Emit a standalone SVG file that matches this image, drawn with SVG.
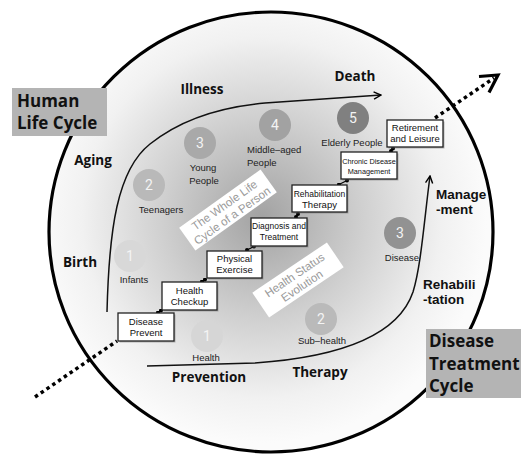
<svg xmlns="http://www.w3.org/2000/svg" width="521" height="454" viewBox="0 0 521 454">
<defs>
<radialGradient id="bg" gradientUnits="userSpaceOnUse" cx="262" cy="218" r="225">
<stop offset="0" stop-color="#a2a2a2"/>
<stop offset="0.45" stop-color="#d0d0d0"/>
<stop offset="0.8" stop-color="#f1f1f1"/>
<stop offset="1" stop-color="#fbfbfb"/>
</radialGradient>
<marker id="dot" viewBox="0 0 6 6" refX="3" refY="3" markerWidth="4" markerHeight="4" markerUnits="userSpaceOnUse"><circle cx="3" cy="3" r="3" fill="#000"/></marker>
<marker id="arr" viewBox="0 0 10 10" refX="9" refY="5" markerWidth="9" markerHeight="9" markerUnits="userSpaceOnUse" orient="auto"><path d="M1,1 L9,5 L1,9" fill="none" stroke="#000" stroke-width="1.6"/></marker>
</defs>
<style>
.lbl{font-family:"Open Sans","Noto Sans",sans-serif;font-weight:700;font-size:13.5px;fill:#111}
.lbl2{font-family:"Liberation Sans",Arial,sans-serif;font-weight:700;font-size:13.5px;fill:#111}
.title{font-family:"Open Sans","Noto Sans",sans-serif;font-weight:700;font-size:17px;fill:#111}
.small{font-family:"Liberation Sans",Arial,sans-serif;font-size:9.5px;fill:#222}
.num{font-family:"Roboto","Liberation Sans",sans-serif;font-size:14px;fill:#f4f4f4;text-anchor:middle}
.box rect.b{fill:#fff;stroke:#222;stroke-width:1.3}
.box rect.s{fill:#777;opacity:0.5}
.bt{font-family:"Liberation Sans",Arial,sans-serif;font-size:9.5px;fill:#111;text-anchor:middle}
.tag{font-family:"Liberation Sans",Arial,sans-serif;font-size:11.5px;fill:#9a9a9a;text-anchor:middle}
.curve{fill:none;stroke:#111;stroke-width:1.5}
.dotted{fill:none;stroke:#000;stroke-width:3.5;stroke-dasharray:3.5 3.5}
</style>

<g id="outer-circle">
<ellipse cx="271" cy="232" rx="222" ry="220" fill="url(#bg)" stroke="#000" stroke-width="3.2"/>
</g>

<g id="connectors">
<path class="curve" d="M107,312 C109,230 117,170 150,144 C180,120 220,107 265,103 L381,95" marker-end="url(#arr)"/>
<path class="curve" d="M147,366 L255,363 C340,357 398,336 413,292 C421,266 424,222 430,176" marker-end="url(#arr)"/>
<path class="dotted" d="M35,397 L117,341"/>
<path class="dotted" d="M435,118 L494,78"/>
<path d="M479,76.5 L498,75 L489,92.5" fill="none" stroke="#000" stroke-width="3.2" stroke-linejoin="miter"/>
<g stroke="#000" stroke-width="1.2" marker-start="url(#dot)" marker-end="url(#dot)">
<line x1="158" y1="312.5" x2="161" y2="310.5"/>
<line x1="202" y1="281.5" x2="205" y2="279.5"/>
<line x1="247" y1="250" x2="254" y2="246.5"/>
<line x1="296" y1="217" x2="298" y2="214"/>
<line x1="339" y1="184.5" x2="347" y2="180.5"/>
<line x1="391" y1="151" x2="393" y2="148.5"/>
</g>
</g>

<g id="label-human-life-cycle">
<rect x="12" y="88" width="95" height="48" fill="#b4b4b4"/>
<text class="title" x="17" y="107">Human</text>
<text class="title" x="17" y="129">Life Cycle</text>
</g>
<g id="label-disease-treatment-cycle">
<rect x="426" y="329" width="95" height="69" fill="#b4b4b4"/>
<text class="title" x="429" y="347">Disease</text>
<text class="title" x="429" y="369.5">Treatment</text>
<text class="title" x="429" y="392">Cycle</text>
</g>

<g id="outer-labels">
<text class="lbl" x="202" y="94" text-anchor="middle">Illness</text>
<text class="lbl" x="355" y="81" text-anchor="middle">Death</text>
<text class="lbl" x="93" y="165" text-anchor="middle">Aging</text>
<text class="lbl" x="80" y="267" text-anchor="middle">Birth</text>
<text class="lbl" x="209" y="382" text-anchor="middle">Prevention</text>
<text class="lbl" x="320" y="377" text-anchor="middle">Therapy</text>
<text class="lbl2" x="423" y="289">Rehabili</text>
<text class="lbl2" x="423" y="304">-tation</text>
<text class="lbl2" x="436" y="199">Manage</text>
<text class="lbl2" x="436" y="214">-ment</text>
</g>

<g id="stage-infants">
<circle cx="130" cy="256" r="16" fill="#d8d8d8"/>
<text class="num" x="130" y="261">1</text>
<text class="small" x="134" y="283" text-anchor="middle">Infants</text>
</g>
<g id="stage-teenagers">
<circle cx="149" cy="185" r="16" fill="#b9b9b9"/>
<text class="num" x="149" y="190">2</text>
<text class="small" x="161" y="213" text-anchor="middle">Teenagers</text>
</g>
<g id="stage-young">
<circle cx="200" cy="143" r="16" fill="#a9a9a9"/>
<text class="num" x="200" y="148">3</text>
<text class="small" x="203" y="171" text-anchor="middle">Young</text>
<text class="small" x="204" y="184" text-anchor="middle">People</text>
</g>
<g id="stage-middle">
<circle cx="275" cy="125" r="16" fill="#a2a2a2"/>
<text class="num" x="275" y="130">4</text>
<text class="small" x="247" y="153">Middle–aged</text>
<text class="small" x="247" y="166">People</text>
</g>
<g id="stage-elderly">
<circle cx="353" cy="118" r="16" fill="#808080"/>
<text class="num" x="353" y="123">5</text>
<text class="small" x="352" y="146" text-anchor="middle">Elderly People</text>
</g>
<g id="status-health">
<circle cx="207" cy="336" r="16" fill="#d6d6d6"/>
<text class="num" x="207" y="341">1</text>
<text class="small" x="206" y="361" text-anchor="middle">Health</text>
</g>
<g id="status-subhealth">
<circle cx="321" cy="319" r="16" fill="#bababa"/>
<text class="num" x="321" y="324">2</text>
<text class="small" x="322" y="344" text-anchor="middle">Sub–health</text>
</g>
<g id="status-disease">
<circle cx="400" cy="233" r="16" fill="#929292"/>
<text class="num" x="400" y="238">3</text>
<text class="small" x="402" y="261" text-anchor="middle">Disease</text>
</g>

<g id="tag-whole-life" transform="translate(228,210) rotate(-35.5)">
<rect x="-50" y="-14" width="100" height="28" fill="#fff"/>
<text class="tag" x="0" y="-2">The Whole Life</text>
<text class="tag" x="0" y="11">Cycle of a Person</text>
</g>
<g id="tag-health-status" transform="translate(298,280) rotate(-34)">
<rect x="-45" y="-15" width="90" height="30" fill="#fff"/>
<text class="tag" x="0" y="-2">Health Status</text>
<text class="tag" x="0" y="11">Evolution</text>
</g>

<g id="box-disease-prevent" class="box">
<rect class="s" x="119.5" y="314.5" width="56" height="28"/>
<rect class="b" x="118" y="313" width="56" height="28"/>
<text class="bt" x="146" y="325">Disease</text>
<text class="bt" x="146" y="336">Prevent</text>
</g>
<g id="box-health-checkup" class="box">
<rect class="s" x="163.5" y="283.5" width="55" height="28"/>
<rect class="b" x="162" y="282" width="55" height="28"/>
<text class="bt" x="189.5" y="294">Health</text>
<text class="bt" x="189.5" y="305">Checkup</text>
</g>
<g id="box-physical-exercise" class="box">
<rect class="s" x="208.5" y="252.5" width="55" height="27"/>
<rect class="b" x="207" y="251" width="55" height="27"/>
<text class="bt" x="234.5" y="262">Physical</text>
<text class="bt" x="234.5" y="273">Exercise</text>
</g>
<g id="box-diagnosis-treatment" class="box">
<rect class="s" x="252.5" y="219.5" width="56" height="28"/>
<rect class="b" x="251" y="218" width="56" height="28"/>
<text class="bt" x="279" y="229" style="font-size:8.5px">Diagnosis and</text>
<text class="bt" x="279" y="240" style="font-size:8.5px">Treatment</text>
</g>
<g id="box-rehabilitation-therapy" class="box">
<rect class="s" x="293.5" y="186.5" width="55" height="27"/>
<rect class="b" x="292" y="185" width="55" height="27"/>
<text class="bt" x="319.5" y="197" style="font-size:8.5px">Rehabilitation</text>
<text class="bt" x="319.5" y="208">Therapy</text>
</g>
<g id="box-chronic-disease" class="box">
<rect class="s" x="342.5" y="153.5" width="56" height="27"/>
<rect class="b" x="341" y="152" width="56" height="27"/>
<text class="bt" x="369" y="164" style="font-size:7.3px">Chronic Disease</text>
<text class="bt" x="369" y="174" style="font-size:7.3px">Management</text>
</g>
<g id="box-retirement" class="box">
<rect class="s" x="388.5" y="121.5" width="56" height="27"/>
<rect class="b" x="387" y="120" width="56" height="27"/>
<text class="bt" x="415" y="131">Retirement</text>
<text class="bt" x="415" y="142">and Leisure</text>
</g>
</svg>
